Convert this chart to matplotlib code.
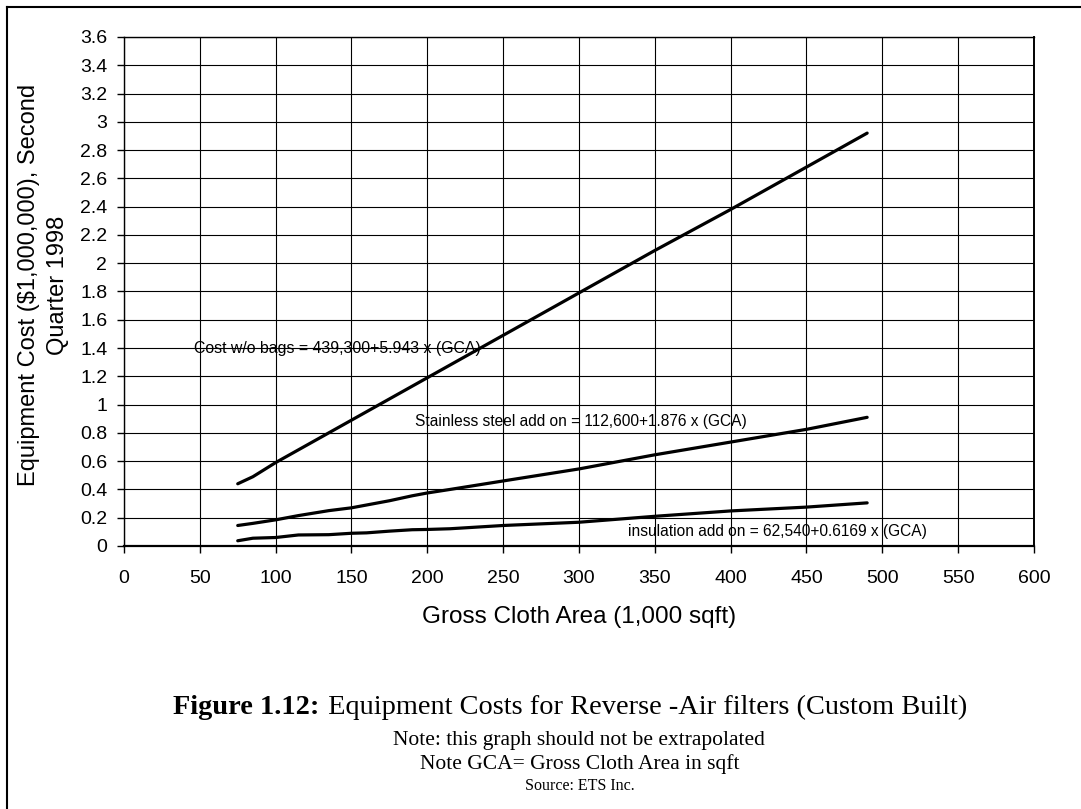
import matplotlib
matplotlib.use("Agg")
import matplotlib.pyplot as plt
from matplotlib.lines import Line2D

# Gross cloth area (1,000 sqft)
gca = [75, 85, 100, 115, 135, 150, 160, 175, 190, 200, 215, 250, 300, 350, 400, 450, 490]

# Equipment cost ($1,000,000)
cost_wo_bags = [0.44, 0.49, 0.59, 0.68, 0.80, 0.89, 0.95, 1.04, 1.13, 1.19, 1.28,
                1.49, 1.79, 2.09, 2.38, 2.68, 2.92]
stainless = [0.145, 0.16, 0.185, 0.215, 0.25, 0.27, 0.29, 0.32, 0.355, 0.375, 0.40,
             0.46, 0.545, 0.645, 0.735, 0.825, 0.91]
insulation = [0.037, 0.055, 0.06, 0.078, 0.08, 0.09, 0.093, 0.105, 0.115, 0.117, 0.122,
              0.145, 0.168, 0.21, 0.248, 0.275, 0.305]

x_ticks = list(range(0, 601, 50))
y_ticks = [round(0.2 * i, 1) for i in range(19)]
y_labels = ["0" if v == 0 else ("%g" % v) for v in y_ticks]

sans = "Liberation Sans"
serif = "Liberation Serif"

fig = plt.figure(figsize=(10.81, 8.09), dpi=100)
ax = fig.add_axes([0.1147, 0.3251, 0.8418, 0.6292])

for ys in (cost_wo_bags, stainless, insulation):
    ax.plot(gca, ys, color="black", lw=2.3, solid_capstyle="round", zorder=3)

ax.set_xlim(0, 600)
ax.set_ylim(0, 3.6)
ax.set_xticks(x_ticks)
ax.set_xticklabels([str(v) for v in x_ticks], fontfamily=sans, fontsize=14)
ax.set_yticks(y_ticks)
ax.set_yticklabels(y_labels, fontfamily=sans, fontsize=14)
ax.tick_params(axis="x", direction="out", length=5, width=1, pad=12)
ax.tick_params(axis="y", direction="out", length=5, width=1, pad=7)
ax.grid(True, color="black", lw=0.8)
for s in ax.spines.values():
    s.set_color("black")
    s.set_linewidth(1.0)
ax.spines["bottom"].set_linewidth(1.6)
ax.spines["right"].set_linewidth(1.4)

ax.set_xlabel("Gross Cloth Area (1,000 sqft)", fontfamily=sans, fontsize=17.5, labelpad=14)
ax.set_ylabel("Equipment Cost ($1,000,000), Second\nQuarter 1998", fontfamily=sans,
              fontsize=17, linespacing=1.45)
ax.yaxis.set_label_coords(-0.060, 0.512)

# equations on the chart
ax.text(46, 1.4, "Cost w/o bags = 439,300+5.943 x (GCA)", fontfamily=sans, fontsize=11.4,
        va="center", ha="left")
ax.text(192, 0.88, "Stainless steel add on = 112,600+1.876 x (GCA)", fontfamily=sans,
        fontsize=11.2, va="center", ha="left")
ax.text(332, 0.1, "insulation add on = 62,540+0.6169 x (GCA)", fontfamily=sans,
        fontsize=11.2, va="center", ha="left")

# caption
fig.text(0.2955, 1 - 707 / 809, "Figure 1.12:", fontfamily=serif, fontweight="bold",
         fontsize=20.4, ha="right", va="center")
fig.text(0.2970, 1 - 707 / 809, " Equipment Costs for Reverse -Air filters (Custom Built)",
         fontfamily=serif, fontsize=20.4, ha="left", va="center")
fig.text(0.536, 1 - 740 / 809, "Note: this graph should not be extrapolated",
         fontfamily=serif, fontsize=15.5, ha="center", va="center")
fig.text(0.536, 1 - 764 / 809, "Note GCA= Gross Cloth Area in sqft",
         fontfamily=serif, fontsize=15.5, ha="center", va="center")
fig.text(0.536, 1 - 786 / 809, "Source: ETS Inc.",
         fontfamily=serif, fontsize=11.5, ha="center", va="center")

# outer frame (left and top edges only)
fig.add_artist(Line2D([7 / 1081, 7 / 1081], [0, 1 - 7 / 809], transform=fig.transFigure,
                      color="black", lw=1.5))
fig.add_artist(Line2D([7 / 1081, 1], [1 - 7 / 809, 1 - 7 / 809], transform=fig.transFigure,
                      color="black", lw=1.5))

fig.savefig("out.png", dpi=100)
